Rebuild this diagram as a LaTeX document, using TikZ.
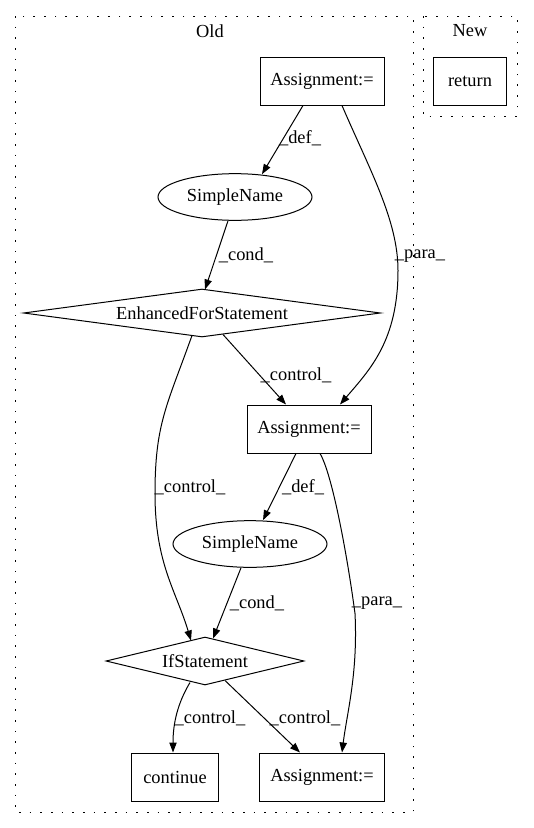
\documentclass[tikz,border=0pt]{standalone}
\usepackage{fontspec}
\setmainfont{Liberation Serif}
\usepackage{tikz}
\usetikzlibrary{shapes.geometric,arrows.meta,calc}

\begin{document}
\begin{tikzpicture}[x=0.75pt, y=-0.75pt, line width=0.75pt,
		font=\fontsize{13.8}{16}\selectfont,
		box/.style={draw, rectangle, minimum height=36pt, inner sep=0pt},
		oval/.style={draw, ellipse, minimum width=115.5pt, minimum height=35pt, inner sep=0pt},
		decision/.style={draw, diamond, minimum height=36pt, inner sep=0pt},
		flow/.style={-{Triangle[length=7.5pt,width=5.5pt]}},
		lbl/.style={inner sep=0pt},
		cluster/.style={dash pattern=on 1.2pt off 6.8pt}]
			\useasboundingbox (0,0) rectangle (533,828);
			% clusters
			\draw[cluster] (15,16) rectangle (413,812);
			\draw[cluster] (423,16) rectangle (517,116);
			\node[lbl] (old) at (210,31) {Old};
			\node[lbl] (new) at (470,31) {New};
			% nodes
			\node[box, minimum width=93pt] (a1) at (322,81) {Assignment:=};
			\node[oval] (sn1) at (235,197) {SimpleName};
			\node[decision, aspect=7.5, minimum width=267.75pt] (efs) at (202,313) {EnhancedForStatement};
			\node[box, minimum width=93pt] (a2) at (309,429) {Assignment:=};
			\node[oval] (sn2) at (250,544) {SimpleName};
			\node[decision, aspect=4.1, minimum width=148.5pt] (ifs) at (205,661) {IfStatement};
			\node[box, minimum width=65pt] (cont) at (175,777) {continue};
			\node[box, minimum width=94pt] (a3) at (322,777) {Assignment:=};
			\node[box, minimum width=55pt] (ret) at (470,81) {return};
			% edges
			\draw[flow] ($(a1.south)+(-19,0)$) -- ($(sn1.north)+(27,1)$);
			\draw[flow] ($(a1.south)+(20,0)$) .. controls +(28,65) and +(0,-50) .. ++(56,165)
				.. controls +(0,70) and +(30,-35) .. ($(a2.north)+(31,0)$);
			\draw[flow] ($(sn1.south)+(-7,0)$) -- ($(efs.north)+(3,1)$);
			\draw[flow] ($(efs.south)+(21,-3)$) -- ($(a2.north)+(-23,0)$);
			\draw[flow] ($(efs.south)+(-10,-2)$) .. controls +(-25,70) and +(0,-70) .. ++(-37,158)
				.. controls +(0,70) and +(-15,-50) .. ($(ifs.north)+(-14,4)$);
			\draw[flow] ($(a2.south)+(-13,0)$) -- ($(sn2.north)+(13,0)$);
			\draw[flow] ($(a2.south)+(11,0)$) .. controls +(12,20) and +(-8,-60) .. ++(35,160)
				.. controls +(3,60) and +(5,-40) .. ($(a3.north)+(20,0)$);
			\draw[flow] ($(sn2.south)+(-9,0)$) -- ($(ifs.north)+(8,2)$);
			\draw[flow] ($(ifs.south)+(-15,-3)$) .. controls +(-12,20) and +(0,-30) .. ($(cont.north)+(-2,0)$);
			\draw[flow] ($(ifs.south)+(20,-5)$) -- ($(a3.north)+(-22,0)$);
			% edge labels
			\node[lbl] (l1) at (300,138) {\_def\_};
			\node[lbl] (l2) at (420,256) {\_para\_};
			\node[lbl] (l3) at (246,255) {\_cond\_};
			\node[lbl] (l4) at (296,375) {\_control\_};
			\node[lbl] (l5) at (190,487) {\_control\_};
			\node[lbl] (l6) at (303,487) {\_def\_};
			\node[lbl] (l7) at (377,603) {\_para\_};
			\node[lbl] (l8) at (257,603) {\_cond\_};
			\node[lbl] (l9) at (210,718) {\_control\_};
			\node[lbl] (l10) at (305,718) {\_control\_};
		\end{tikzpicture}
\end{document}
